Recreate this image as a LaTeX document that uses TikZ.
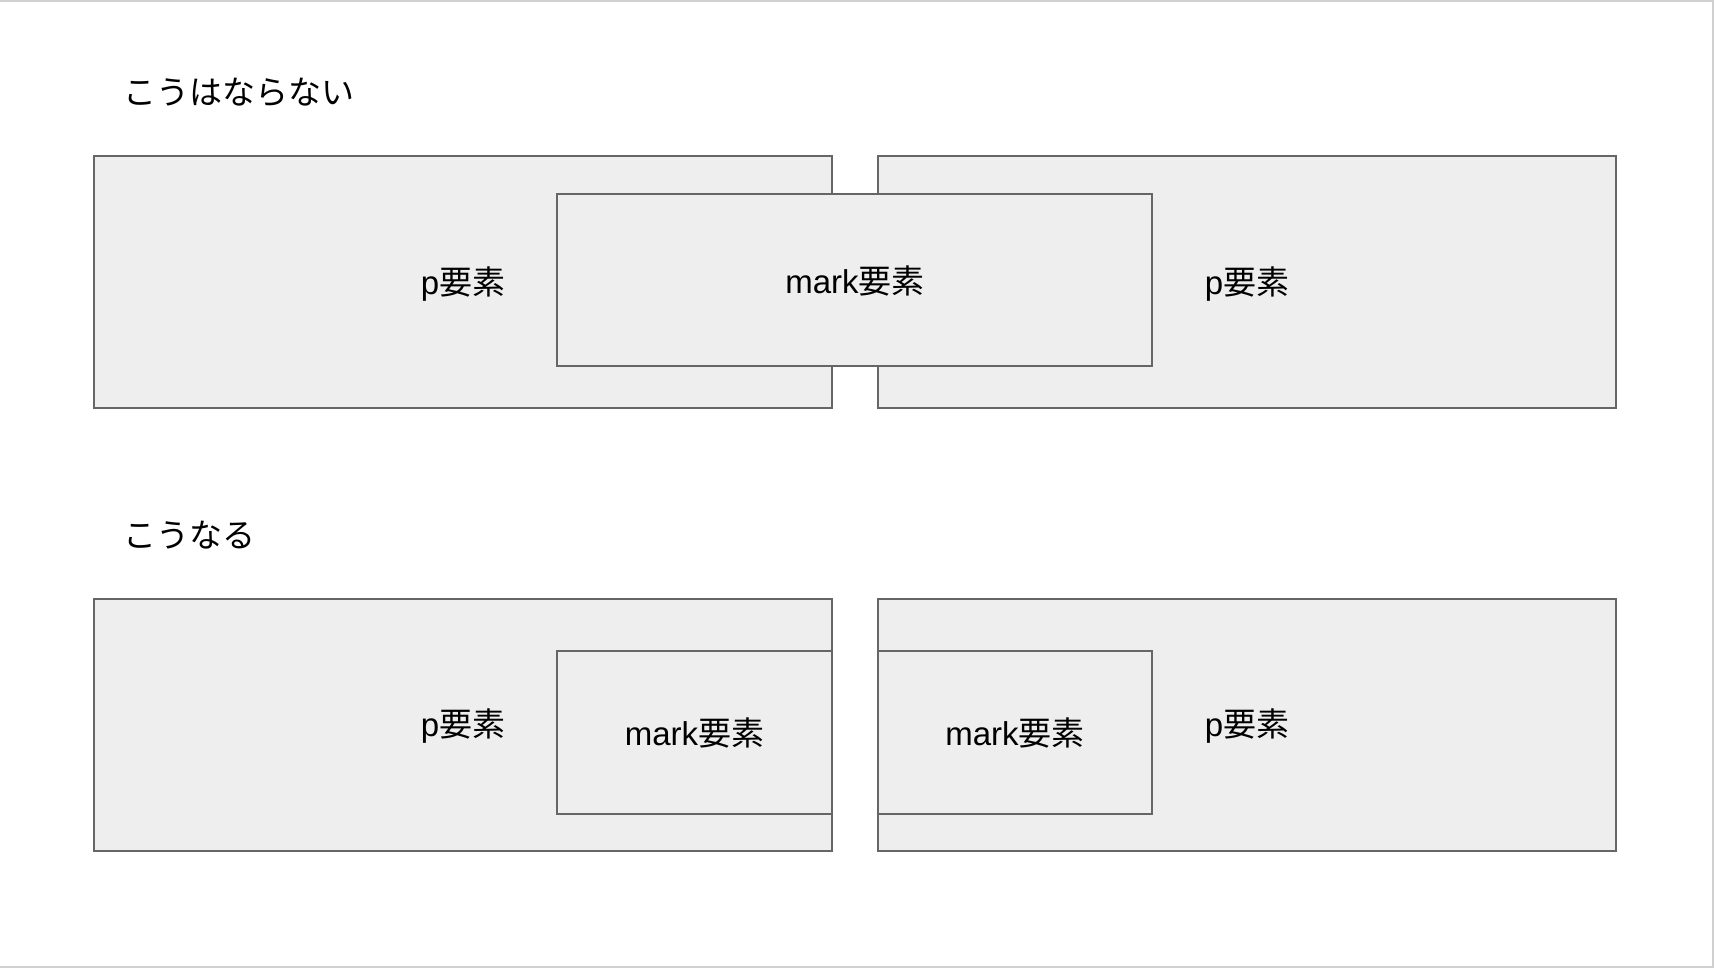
\documentclass[tikz,border=0pt]{standalone}
\usepackage{fontspec}
\setmainfont{Liberation Sans}
\newfontfamily\jp{Noto Sans CJK JP}
\definecolor{boxfill}{HTML}{EEEEEE}
\definecolor{boxline}{HTML}{666666}
\definecolor{frameline}{HTML}{D0D0D0}
\begin{document}
\begin{tikzpicture}[x=1pt,y=-1pt,
  blk/.style={draw=boxline,fill=boxfill,line width=1.5pt},
  lbl/.style={inner sep=0pt,font=\fontsize{33}{38}\selectfont}]
\useasboundingbox (0,0) rectangle (1714,968);
\draw[frameline,line width=2.5pt] (0,1) -- (1713,1) -- (1713,967) -- (0,967);
% titles
\node[lbl,anchor=west] (t1) at (123,92) {\jp こうはならない};
\node[lbl,anchor=west] (t2) at (123,535) {\jp こうなる};
% top row
\draw[blk] (94,156) rectangle (832,408);
\draw[blk] (878,156) rectangle (1616,408);
\draw[blk] (557,194) rectangle (1152,366);
\node[lbl] (p1) at (463,284) {p{\jp 要素}};
\node[lbl] (p2) at (1247,284) {p{\jp 要素}};
\node[lbl] (m1) at (855,281) {mark{\jp 要素}};
% bottom row
\draw[blk] (94,599) rectangle (832,851);
\draw[blk] (878,599) rectangle (1616,851);
\draw[blk] (557,651) rectangle (832,814);
\draw[blk] (878,651) rectangle (1152,814);
\node[lbl] (p3) at (463,726) {p{\jp 要素}};
\node[lbl] (p4) at (1247,726) {p{\jp 要素}};
\node[lbl] (m2) at (694.5,733) {mark{\jp 要素}};
\node[lbl] (m3) at (1015,733) {mark{\jp 要素}};
\end{tikzpicture}
\end{document}
